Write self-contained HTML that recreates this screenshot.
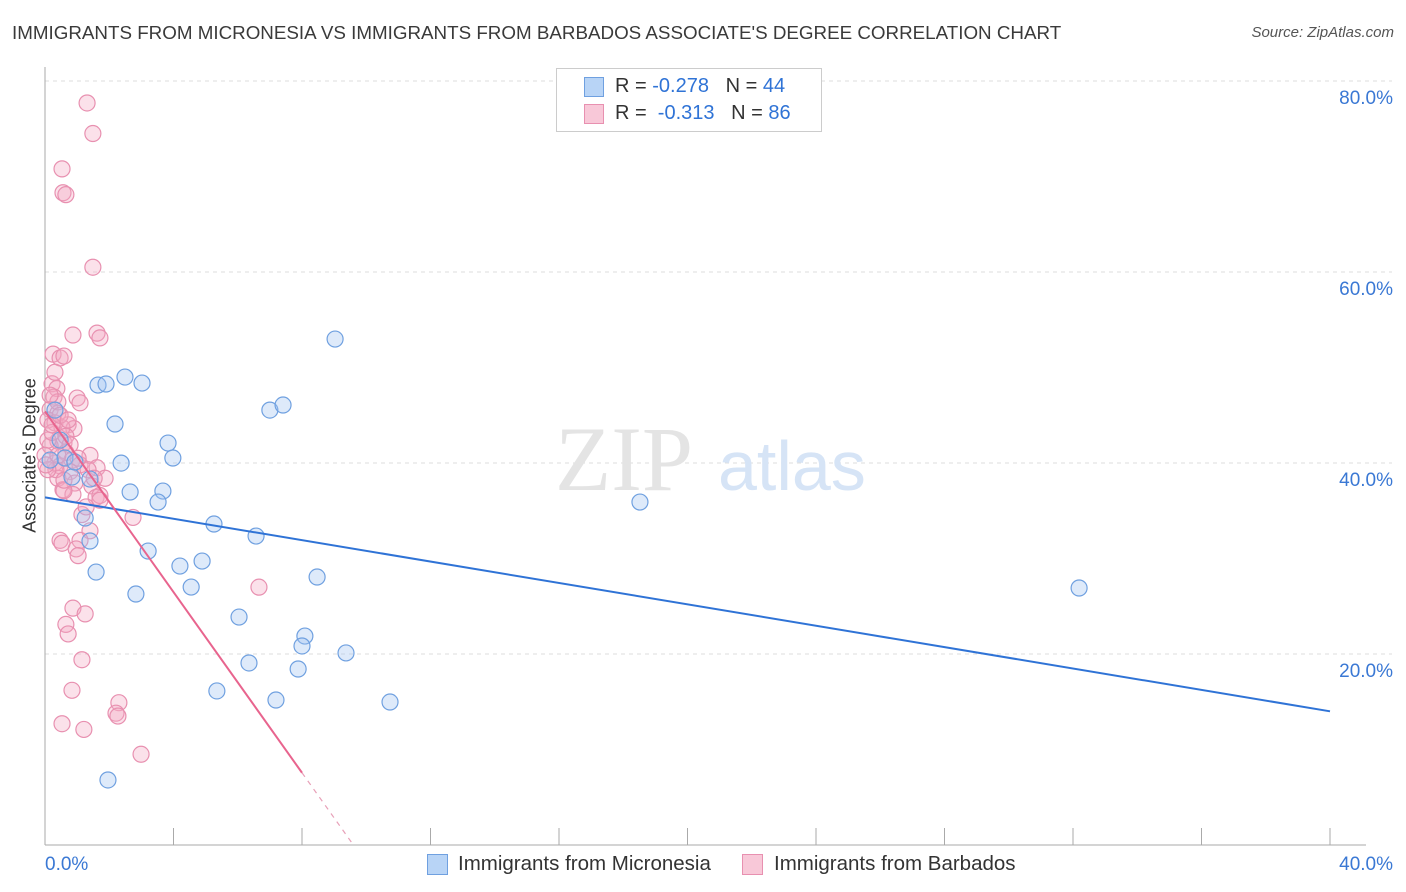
<!DOCTYPE html>
<html><head><meta charset="utf-8"><style>
body{margin:0;background:#fff;font-family:"Liberation Sans",sans-serif;}
#wrap{position:relative;width:1406px;height:892px;overflow:hidden;}
.t{position:absolute;white-space:nowrap;}
</style></head><body>
<div id="wrap">
<div class="t" style="left:12px;top:22px;font-size:18.8px;color:#3a3a3a;">IMMIGRANTS FROM MICRONESIA VS IMMIGRANTS FROM BARBADOS ASSOCIATE'S DEGREE CORRELATION CHART</div>
<div class="t" style="right:12px;top:24px;font-size:15px;color:#555;font-style:italic;">Source: ZipAtlas.com</div>
<div class="t" style="left:-50px;top:445px;font-size:18px;color:#333;transform:rotate(-90deg);transform-origin:center;width:160px;text-align:center;">Associate's Degree</div>
<svg id="plot" width="1406" height="892" style="position:absolute;left:0;top:0"></svg>
<div style="position:absolute;left:556px;top:68px;width:264px;height:62px;border:1px solid #ccc;background:#fff;font-size:20px;">
 <div style="position:absolute;left:27px;top:8px;width:18px;height:18px;background:#b8d4f6;border:1px solid #6fa0e0;"></div>
 <div class="t" style="left:58px;top:6px;color:#333">R = <span style="color:#2f73d6">-0.278</span>&nbsp;&nbsp;&nbsp;N = <span style="color:#2f73d6">44</span></div>
 <div style="position:absolute;left:27px;top:35px;width:18px;height:18px;background:#f8c8d8;border:1px solid #e890b0;"></div>
 <div class="t" style="left:58px;top:33px;color:#333">R = &nbsp;<span style="color:#2f73d6">-0.313</span>&nbsp;&nbsp;&nbsp;N = <span style="color:#2f73d6">86</span></div>
</div>
<div style="position:absolute;left:427px;top:854px;width:19px;height:19px;background:#b8d4f6;border:1px solid #6fa0e0;"></div>
<div class="t" style="left:458px;top:852px;font-size:20.5px;color:#333">Immigrants from Micronesia</div>
<div style="position:absolute;left:742px;top:854px;width:19px;height:19px;background:#f8c8d8;border:1px solid #e890b0;"></div>
<div class="t" style="left:774px;top:852px;font-size:20.5px;color:#333">Immigrants from Barbados</div>
</div>
<script>
const blueX=[9.03,2.49,3.02,1.65,1.90,7.00,7.41,2.18,3.83,3.98,2.37,0.62,1.40,0.84,2.65,3.67,3.52,18.52,1.25,5.26,6.57,1.40,3.21,4.20,4.89,1.59,8.47,4.55,2.83,32.19,6.04,8.09,8.00,9.37,6.35,7.88,5.35,7.19,10.74,1.96,0.31,0.47,0.93,0.16];
const blueY=[52.98,49.0,48.37,48.16,48.27,45.54,46.07,44.08,42.09,40.52,39.99,40.52,38.32,38.53,36.96,37.06,35.91,35.91,34.24,33.61,32.35,31.83,30.78,29.21,29.73,28.58,28.06,27.01,26.28,26.91,23.87,21.88,20.84,20.11,19.06,18.43,16.13,15.18,14.97,6.81,45.54,42.40,40.10,40.31];
const pinkX=[1.31,1.49,0.53,0.56,0.65,1.49,0.87,1.62,1.71,0.25,0.47,0.59,0.22,0.37,0.28,1.00,1.09,0.16,0.40,0.72,0.90,0.09,0.31,0.53,0.40,0.59,0.16,0.65,1.40,0.84,0.31,0.47,1.09,1.62,0.78,1.87,0.40,0.93,1.46,0.56,0.87,1.59,0.59,1.15,2.74,1.40,0.47,0.53,1.09,0.97,1.03,0.87,1.25,0.65,0.72,1.15,0.84,2.30,2.21,2.27,0.53,1.21,2.99,6.66,0.09,0.22,0.34,0.59,1.71,0.65,0.78,0.40,0.00,0.09,1.34,1.03,1.53,1.71,0.22,0.47,0.72,0.16,0.31,0.03,0.40,1.28];
const pinkY=[77.7,74.5,70.8,68.3,68.1,60.5,53.4,53.6,53.1,51.4,51.0,51.2,48.3,47.8,46.9,46.8,46.3,45.6,45.2,44.0,43.6,44.5,44.2,43.7,42.3,42.1,41.8,41.1,40.8,40.3,40.0,39.7,39.8,39.5,39.1,38.4,38.4,37.9,37.6,37.2,36.7,36.4,37.1,34.6,34.3,32.9,31.9,31.6,31.9,31.0,30.3,24.8,24.2,23.1,22.1,19.4,16.2,14.9,13.8,13.5,12.7,12.1,9.5,27.0,42.4,43.2,39.3,38.2,36.6,42.8,41.9,46.4,40.8,39.3,39.3,40.5,38.4,36.1,44.0,45.0,44.5,47.1,49.5,39.8,40.8,35.4];
const blueTrend=[36.4,14.0];
const pinkTrend=[45.4,9.6,8.0];
const yTicks=[20,40,60,80];
const yTickLabels=["20.0%","40.0%","60.0%","80.0%"];
const xTickLabels=["0.0%","40.0%"];
const NS="http://www.w3.org/2000/svg";
const svg=document.getElementById('plot');
const X=v=>45+v*1285/40;
const Y=v=>845-v*9.55;
function el(t,a){const e=document.createElementNS(NS,t);for(const k in a)e.setAttribute(k,a[k]);svg.appendChild(e);return e;}
yTicks.forEach((v,i)=>{
 const g=el('line',{x1:45,x2:1392,y1:Y(v),y2:Y(v),stroke:'#ddd','stroke-dasharray':'4,4'});
 
 
 const t=el('text',{x:1393,y:Y(v)+23,'text-anchor':'end','font-size':19,fill:'#3a78d4'});
 t.textContent=yTickLabels[i];
 
 
});
const ax=el('line',{x1:45,x2:45,y1:67,y2:845,stroke:'#aaa'});


const bx=el('line',{x1:45,x2:1366,y1:845,y2:845,stroke:'#aaa'});


for(let i=1;i<=10;i++){const tk=el('line',{x1:X(i*4),x2:X(i*4),y1:828,y2:845,stroke:'#aaa'});
 
 }
[[0,'start',45],[40,'end',1393]].forEach((a,i)=>{const t=el('text',{x:a[2],y:870,'text-anchor':a[1],'font-size':19,fill:'#3a78d4'});t.textContent=xTickLabels[i];
 
 });
const wm=el('text',{x:555,y:490,'font-size':92,fill:'#e4e4e4','font-family':'Liberation Serif'});wm.textContent='ZIP';


const wm2=el('text',{x:718,y:490,'font-size':70,fill:'#d6e4f6'});wm2.textContent='atlas';


pinkX.forEach((x,i)=>{const c=el('circle',{cx:X(x),cy:Y(pinkY[i]),r:8,fill:'rgba(244,170,196,0.35)',stroke:'#e890b0','stroke-width':1.2});
 
 });
blueX.forEach((x,i)=>{const c=el('circle',{cx:X(x),cy:Y(blueY[i]),r:8,fill:'rgba(160,196,240,0.35)',stroke:'#6fa0e0','stroke-width':1.2});
 
 });
const bl=el('line',{x1:X(0),y1:Y(blueTrend[0]),x2:X(40),y2:Y(blueTrend[1]),stroke:'#2f73d6','stroke-width':2});


const py=x=>pinkTrend[0]*(1-x/pinkTrend[1]);
const pl=el('line',{x1:X(0),y1:Y(pinkTrend[0]),x2:X(pinkTrend[2]),y2:Y(py(pinkTrend[2])),stroke:'#e8648e','stroke-width':2});


const pd=el('line',{x1:X(pinkTrend[2]),y1:Y(py(pinkTrend[2])),x2:X(pinkTrend[1]),y2:Y(0),stroke:'#e8a0b8','stroke-width':1.2,'stroke-dasharray':'5,5'});


</script>
</body></html>
